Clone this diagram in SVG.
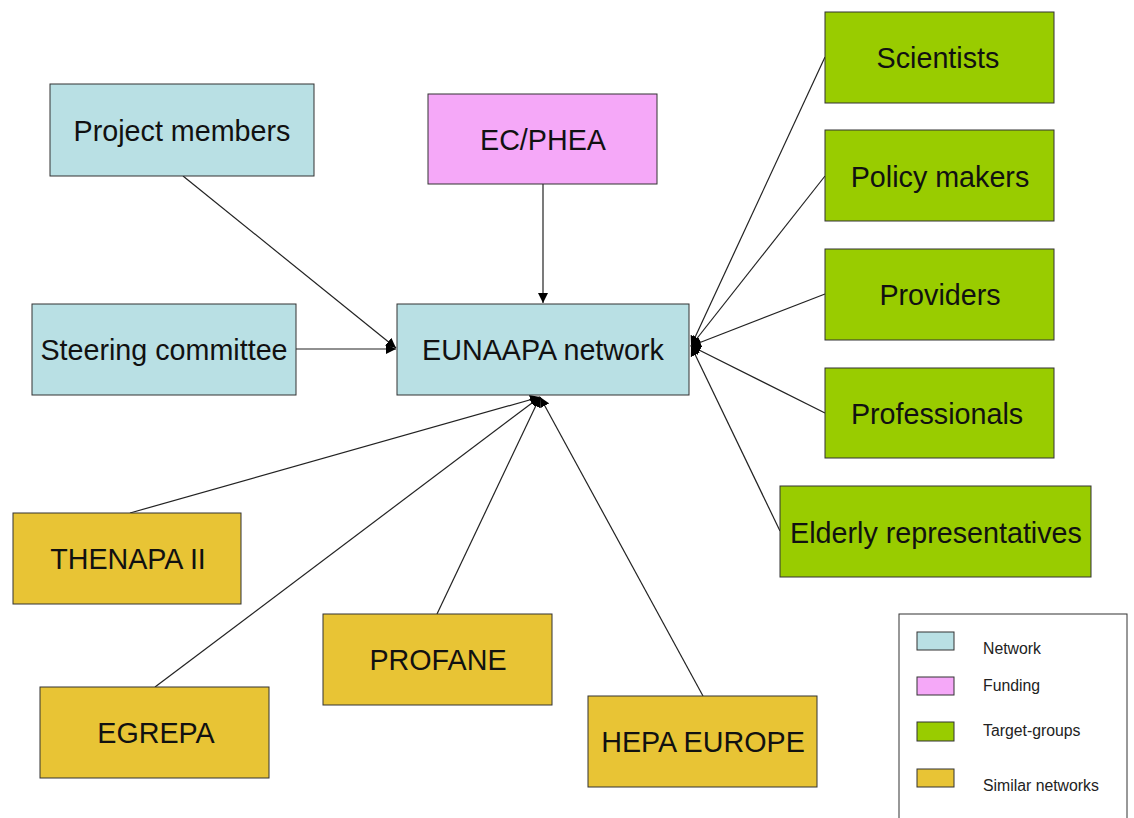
<svg xmlns="http://www.w3.org/2000/svg" width="1134" height="818" viewBox="0 0 1134 818">
<defs>
<style>
.box{stroke:#333;stroke-width:1}
.net{fill:#B9E0E4}
.fund{fill:#F5A8F8}
.tgt{fill:#99CC00}
.sim{fill:#E8C435}
.lbl{font-family:"Liberation Sans",Arial,sans-serif;font-size:28.7px;fill:#111;text-anchor:middle;dominant-baseline:central}
.leg{font-family:"Liberation Sans",Arial,sans-serif;font-size:15.8px;fill:#222}
.con line{stroke:#222;stroke-width:1.2;fill:none}
</style>
<marker id="ah" viewBox="0 0 10 10" refX="10" refY="5" markerWidth="10" markerHeight="10" markerUnits="userSpaceOnUse" orient="auto">
<path d="M0,0 L10,5 L0,10 z" fill="#000"/>
</marker>
</defs>
<rect width="1134" height="818" fill="#fff"/>
<g id="connectors" class="con">
<line x1="183" y1="176" x2="396" y2="348" marker-end="url(#ah)"/>
<line x1="543" y1="184" x2="543" y2="303" marker-end="url(#ah)"/>
<line x1="296" y1="349" x2="396" y2="349" marker-end="url(#ah)"/>
<line x1="825" y1="57" x2="691" y2="346" marker-end="url(#ah)"/>
<line x1="825" y1="176" x2="691" y2="346" marker-end="url(#ah)"/>
<line x1="825" y1="294" x2="691" y2="346" marker-end="url(#ah)"/>
<line x1="825" y1="413" x2="691" y2="346" marker-end="url(#ah)"/>
<line x1="780" y1="531" x2="691" y2="346" marker-end="url(#ah)"/>
<line x1="130" y1="513" x2="540" y2="397" marker-end="url(#ah)"/>
<line x1="155" y1="687" x2="540" y2="397" marker-end="url(#ah)"/>
<line x1="437" y1="614" x2="540" y2="397" marker-end="url(#ah)"/>
<line x1="703" y1="696" x2="540" y2="397" marker-end="url(#ah)"/>
</g>
<g id="project-members"><rect class="box net" x="50" y="84" width="264" height="92"/><text class="lbl" x="182" y="131">Project members</text></g>
<g id="ec-phea"><rect class="box fund" x="428" y="94" width="229" height="90"/><text class="lbl" x="543" y="140">EC/PHEA</text></g>
<g id="steering-committee"><rect class="box net" x="32" y="304" width="264" height="91"/><text class="lbl" x="164" y="350">Steering committee</text></g>
<g id="eunaapa"><rect class="box net" x="397" y="304" width="292" height="91"/><text class="lbl" x="543" y="350">EUNAAPA network</text></g>
<g id="scientists"><rect class="box tgt" x="825" y="12" width="229" height="91"/><text class="lbl" x="938" y="58">Scientists</text></g>
<g id="policy-makers"><rect class="box tgt" x="825" y="130" width="229" height="91"/><text class="lbl" x="940" y="177">Policy makers</text></g>
<g id="providers"><rect class="box tgt" x="825" y="249" width="229" height="91"/><text class="lbl" x="940" y="295">Providers</text></g>
<g id="professionals"><rect class="box tgt" x="825" y="368" width="229" height="90"/><text class="lbl" x="937" y="414">Professionals</text></g>
<g id="elderly"><rect class="box tgt" x="780" y="486" width="311" height="91"/><text class="lbl" x="936" y="533">Elderly representatives</text></g>
<g id="thenapa"><rect class="box sim" x="13" y="513" width="228" height="91"/><text class="lbl" x="128" y="559">THENAPA II</text></g>
<g id="profane"><rect class="box sim" x="323" y="614" width="229" height="91"/><text class="lbl" x="438" y="660">PROFANE</text></g>
<g id="egrepa"><rect class="box sim" x="40" y="687" width="229" height="91"/><text class="lbl" x="156" y="733">EGREPA</text></g>
<g id="hepa"><rect class="box sim" x="588" y="696" width="229" height="91"/><text class="lbl" x="703" y="742">HEPA EUROPE</text></g>
<g id="legend">
<rect x="899" y="614" width="228" height="210" fill="#fff" stroke="#333" stroke-width="1"/>
<rect class="box net" x="917" y="632" width="37" height="18"/>
<rect class="box fund" x="917" y="677" width="37" height="18"/>
<rect class="box tgt" x="917" y="722" width="37" height="19"/>
<rect class="box sim" x="917" y="769" width="37" height="18"/>
<text class="leg" x="983" y="654">Network</text>
<text class="leg" x="983" y="691">Funding</text>
<text class="leg" x="983" y="736">Target-groups</text>
<text class="leg" x="983" y="791">Similar networks</text>
</g>
</svg>
